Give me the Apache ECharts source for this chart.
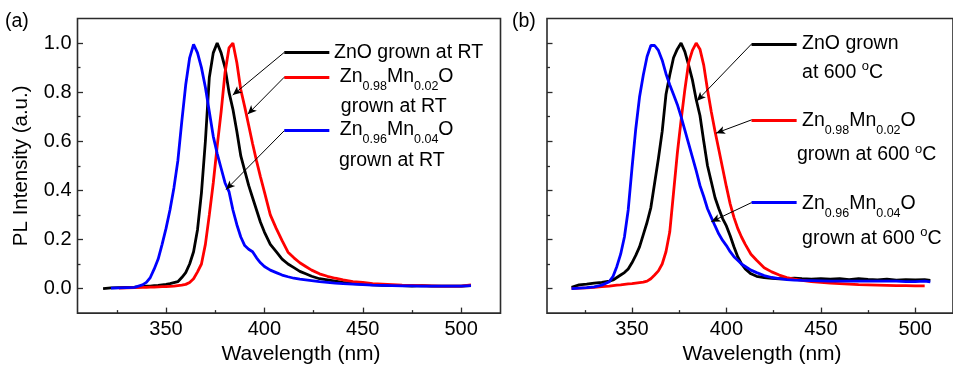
<!DOCTYPE html>
<html>
<head>
<meta charset="utf-8">
<script src="https://cdn.jsdelivr.net/npm/echarts@6.0.0/dist/echarts.min.js"></script>
<style>
  html, body { margin: 0; padding: 0; background: #fff; }
  #chart { width: 953px; height: 370px; }
</style>
</head>
<body>
<div id="chart"></div>
<script>
// ===== 数据：面板 (a) 室温生长 =====
const wlA = [318, 322, 326, 330, 334, 338, 340, 342, 344, 346, 348, 350, 352, 354, 356, 358, 360, 362, 364, 366,
  368, 370, 372, 374, 376, 378, 380, 382, 384, 386, 388, 390, 392, 394, 396, 398, 400, 403, 406, 409,
  412, 415, 418, 421, 424, 428, 432, 436, 440, 445, 450, 455, 460, 465, 470, 475, 480, 485, 490, 495, 500, 505]
const znoRT = [0.0, 0.003, 0.004, 0.005, 0.006, 0.008, 0.01, 0.01, 0.012, 0.013, 0.015, 0.017, 0.02, 0.024, 0.028, 0.045, 0.065, 0.1, 0.15, 0.24,
  0.39, 0.6, 0.86, 0.96, 1.0, 0.96, 0.9, 0.8, 0.73, 0.64, 0.54, 0.48, 0.42, 0.37, 0.32, 0.27, 0.23, 0.18, 0.15, 0.12,
  0.1, 0.085, 0.07, 0.06, 0.05, 0.04, 0.035, 0.03, 0.025, 0.02, 0.018, 0.015, 0.013, 0.012, 0.012, 0.01, 0.012, 0.01, 0.01, 0.01, 0.01, 0.012]
const mn002RT = [null, null, 0.002, 0.003, 0.004, 0.005, 0.005, 0.006, 0.006, 0.007, 0.008, 0.008, 0.009, 0.01, 0.012, 0.014, 0.017, 0.025, 0.04, 0.068,
  0.1, 0.18, 0.3, 0.43, 0.58, 0.72, 0.88, 0.98, 1.0, 0.92, 0.81, 0.74, 0.665, 0.59, 0.52, 0.455, 0.394, 0.3, 0.245, 0.195,
  0.148, 0.125, 0.105, 0.09, 0.075, 0.06, 0.05, 0.042, 0.035, 0.028, 0.025, 0.02, 0.018, 0.016, 0.014, 0.013, 0.012, 0.011, 0.01, 0.01, 0.01, 0.015]
const mn004RT = [null, 0.002, 0.003, 0.004, 0.005, 0.015, 0.025, 0.045, 0.08, 0.12, 0.18, 0.245, 0.32, 0.41, 0.52, 0.68, 0.83, 0.94, 0.995, 0.96,
  0.9, 0.82, 0.72, 0.62, 0.55, 0.49, 0.43, 0.395, 0.32, 0.26, 0.21, 0.175, 0.16, 0.15, 0.125, 0.105, 0.09, 0.075, 0.065, 0.055,
  0.048, 0.042, 0.038, 0.035, 0.032, 0.028, 0.025, 0.022, 0.02, 0.018, 0.016, 0.014, 0.013, 0.012, 0.011, 0.011, 0.01, 0.01, 0.01, 0.01, 0.01, 0.012]

// ===== 数据：面板 (b) 600 °C 生长 =====
const wlB = [318, 322, 326, 330, 334, 338, 340, 342, 344, 346, 348, 350, 352, 354, 356, 358, 360, 362, 364, 366,
  368, 370, 372, 374, 376, 378, 380, 382, 384, 386, 388, 390, 392, 394, 396, 398, 400, 402, 404, 406,
  408, 410, 413, 416, 420, 424, 428, 432, 436, 440, 445, 450, 455, 460, 465, 470, 475, 480, 485, 490, 495, 500, 505, 508]
const zno600 = [0.005, 0.015, 0.018, 0.022, 0.025, 0.03, 0.035, 0.045, 0.055, 0.065, 0.08, 0.105, 0.135, 0.17, 0.22, 0.27, 0.33, 0.43, 0.53, 0.64,
  0.79, 0.87, 0.94, 0.975, 1.0, 0.965, 0.91, 0.85, 0.77, 0.705, 0.6, 0.5, 0.435, 0.37, 0.325, 0.285, 0.255, 0.215, 0.17, 0.13,
  0.1, 0.08, 0.06, 0.05, 0.045, 0.042, 0.04, 0.04, 0.042, 0.04, 0.038, 0.04, 0.038, 0.04, 0.036, 0.04, 0.037, 0.035, 0.038, 0.034, 0.036, 0.035, 0.036, 0.033]
const mn002_600 = [0.0, 0.002, 0.003, 0.005, 0.008, 0.01, 0.012, 0.014, 0.015, 0.017, 0.019, 0.02, 0.022, 0.024, 0.026, 0.03, 0.04, 0.055, 0.072, 0.1,
  0.15, 0.23, 0.39, 0.55, 0.685, 0.81, 0.92, 0.97, 1.0, 0.975, 0.91, 0.81, 0.72, 0.64, 0.565, 0.49, 0.415, 0.345, 0.29, 0.245,
  0.21, 0.18, 0.14, 0.115, 0.085, 0.068, 0.055, 0.045, 0.038, 0.033, 0.028, 0.025, 0.022, 0.02, 0.018, 0.016, 0.015, 0.014, 0.013, 0.012, 0.012, 0.011, 0.011, null]
const mn004_600 = [0.0, 0.002, 0.004, 0.007, 0.014, 0.028, 0.05, 0.09, 0.14, 0.21, 0.32, 0.49, 0.65, 0.78, 0.87, 0.945, 0.99, 0.99, 0.97, 0.93,
  0.875, 0.83, 0.79, 0.75, 0.7, 0.645, 0.59, 0.535, 0.48, 0.42, 0.375, 0.325, 0.29, 0.255, 0.222, 0.196, 0.175, 0.15, 0.13, 0.115,
  0.1, 0.09, 0.075, 0.065, 0.053, 0.045, 0.04, 0.036, 0.034, 0.033, 0.032, 0.031, 0.03, 0.03, 0.03, 0.03, 0.03, 0.03, 0.03, 0.03, 0.028, 0.028, 0.03, 0.027]

// ===== 刻度 =====
const xMajorTicks = [350, 400, 450, 500]
const xMinorTicks = [325, 375, 425, 475]
const yMajorTicks = [0, 0.2, 0.4, 0.6, 0.8, 1.0]
const yMinorTicks = [0.1, 0.3, 0.5, 0.7, 0.9]

const FONT = 'Liberation Sans, Arial, sans-serif'
const FRAME = '#2b2b2b'
const X_MIN = 305
const X_MAX = 520

// 下标 / 上标样式
const RICH = {
  m: { fontSize: 19.5, fontFamily: FONT, color: '#000' },
  s: { fontSize: 12.5, fontFamily: FONT, color: '#000', padding: [20, 0, 0, 0] },
  u: { fontSize: 13, fontFamily: FONT, color: '#000', padding: [0, 0, 12, 0] },
}

const chart = echarts.init(document.getElementById('chart'), null, { renderer: 'canvas' })

function pairs(wl, vals) {
  return wl.map((x, i) => [x, vals[i]]).filter((p) => p[1] != null)
}

function xAxes(gridIndex) {
  return [
    {
      type: 'value', gridIndex, min: X_MIN, max: X_MAX, position: 'bottom',
      name: 'Wavelength (nm)', nameLocation: 'middle', nameGap: 27,
      nameTextStyle: { fontSize: 21, color: '#000', fontFamily: FONT, padding: [0, 0, 0, 24] },
      axisLine: { show: false, onZero: false },
      axisTick: { show: true, inside: true, length: 5.5, customValues: xMajorTicks, lineStyle: { color: FRAME, width: 1.3 } },
      axisLabel: { show: true, customValues: xMajorTicks, margin: 6, fontSize: 20, color: '#000', fontFamily: FONT },
      splitLine: { show: false },
    },
    {
      type: 'value', gridIndex, min: X_MIN, max: X_MAX, position: 'bottom',
      axisLine: { show: false, onZero: false },
      axisTick: { show: true, inside: true, length: 3, customValues: xMinorTicks, lineStyle: { color: FRAME, width: 1.3 } },
      axisLabel: { show: false },
      splitLine: { show: false },
    },
  ]
}

function yAxes(gridIndex, withLabels) {
  return [
    {
      type: 'value', gridIndex, min: -0.1, max: 1.1, position: 'left',
      name: withLabels ? 'PL Intensity (a.u.)' : '', nameLocation: 'middle', nameGap: 46,
      nameTextStyle: { fontSize: 20.5, color: '#000', fontFamily: FONT },
      axisLine: { show: false, onZero: false },
      axisTick: { show: true, inside: true, length: 5.5, customValues: yMajorTicks, lineStyle: { color: FRAME, width: 1.3 } },
      axisLabel: {
        show: withLabels, customValues: yMajorTicks, margin: 6, fontSize: 20, color: '#000', fontFamily: FONT,
        formatter: (v) => v.toFixed(1),
      },
      splitLine: { show: false },
    },
    {
      type: 'value', gridIndex, min: -0.1, max: 1.1, position: 'left',
      axisLine: { show: false, onZero: false },
      axisTick: { show: true, inside: true, length: 3, customValues: yMinorTicks, lineStyle: { color: FRAME, width: 1.3 } },
      axisLabel: { show: false },
      splitLine: { show: false },
    },
  ]
}

// 图例样线 + 指向曲线的箭头 + 文字标签
function curve(name, color, data, axisIdx, note) {
  const solid = (w, c) => ({ width: w, color: c, type: 'solid' })
  return {
    name, type: 'line', data, xAxisIndex: axisIdx, yAxisIndex: axisIdx,
    showSymbol: false, symbol: 'none', smooth: false, animation: false, silent: true,
    lineStyle: { width: 2.8, color },
    markLine: {
      silent: true, animation: false, symbol: 'none', label: { show: false },
      lineStyle: { type: 'solid' }, emphasis: { disabled: true },
      data: [
        [
          { coord: note.sample[0], lineStyle: solid(3.2, color) },
          { coord: note.sample[1], lineStyle: solid(3.2, color) },
        ],
        [
          { coord: note.sample[0], symbol: 'none', lineStyle: solid(1, '#000') },
          { coord: note.tip, symbol: 'arrow', symbolSize: [6, 9], lineStyle: solid(1, '#000') },
        ],
      ],
    },
    markPoint: {
      silent: true, animation: false, symbol: 'circle', symbolSize: 1,
      itemStyle: { color: 'rgba(0,0,0,0)' },
      label: { show: true, position: 'right', distance: 0, fontSize: 19.5, fontFamily: FONT, color: '#000', rich: RICH },
      data: note.texts.map((t) => ({ coord: t.at, label: { formatter: t.text } })),
    },
  }
}

const noteA = {
  zno: { sample: [[410.1, 0.962], [433, 0.962]], tip: [383.9, 0.788],
    texts: [{ at: [435.1, 0.962], text: '{m|ZnO grown at RT}' }] },
  mn2: { sample: [[410.1, 0.861], [433, 0.861]], tip: [391.5, 0.71],
    texts: [{ at: [438.1, 0.865], text: '{m|Zn}{s|0.98}{m|Mn}{s|0.02}{m|O}' }, { at: [438.6, 0.742], text: '{m|grown at RT}' }] },
  mn4: { sample: [[410.1, 0.643], [433, 0.643]], tip: [380.5, 0.403],
    texts: [{ at: [438.1, 0.649], text: '{m|Zn}{s|0.96}{m|Mn}{s|0.04}{m|O}' }, { at: [437.6, 0.521], text: '{m|grown at RT}' }] },
}
const noteB = {
  zno: { sample: [[413.3, 0.996], [437.2, 0.996]], tip: [384.3, 0.764],
    texts: [{ at: [439.8, 0.996], text: '{m|ZnO grown}' }, { at: [439.8, 0.879], text: '{m|at 600 }{u|o}{m|C}' }] },
  mn2: { sample: [[413.3, 0.687], [437.2, 0.687]], tip: [394.5, 0.633],
    texts: [{ at: [439.8, 0.686], text: '{m|Zn}{s|0.98}{m|Mn}{s|0.02}{m|O}' }, { at: [437.1, 0.544], text: '{m|grown at 600 }{u|o}{m|C}' }] },
  mn4: { sample: [[413.3, 0.35], [437.2, 0.35]], tip: [392, 0.272],
    texts: [{ at: [439.8, 0.346], text: '{m|Zn}{s|0.96}{m|Mn}{s|0.04}{m|O}' }, { at: [439.8, 0.205], text: '{m|grown at 600 }{u|o}{m|C}' }] },
}

const option = {
  animation: false,
  backgroundColor: '#fff',
  grid: [
    { left: 77.5, top: 18.5, width: 423, height: 297, show: true, borderColor: FRAME, borderWidth: 1.6, backgroundColor: 'transparent' },
    { left: 547, top: 18.5, width: 422, height: 297, show: true, borderColor: FRAME, borderWidth: 1.6, backgroundColor: 'transparent' },
  ],
  xAxis: [...xAxes(0), ...xAxes(1)],
  yAxis: [...yAxes(0, true), ...yAxes(1, false)],
  graphic: [
    { type: 'text', left: 5, top: 12, style: { text: '(a)', fontSize: 19.5, fontFamily: FONT, fill: '#000' } },
    { type: 'text', left: 512, top: 12, style: { text: '(b)', fontSize: 19.5, fontFamily: FONT, fill: '#000' } },
  ],
  series: [
    curve('ZnO RT', '#000000', pairs(wlA, znoRT), 0, noteA.zno),
    curve('Zn0.98Mn0.02O RT', '#ff0000', pairs(wlA, mn002RT), 0, noteA.mn2),
    curve('Zn0.96Mn0.04O RT', '#0000ff', pairs(wlA, mn004RT), 0, noteA.mn4),
    curve('ZnO 600', '#000000', pairs(wlB, zno600), 2, noteB.zno),
    curve('Zn0.98Mn0.02O 600', '#ff0000', pairs(wlB, mn002_600), 2, noteB.mn2),
    curve('Zn0.96Mn0.04O 600', '#0000ff', pairs(wlB, mn004_600), 2, noteB.mn4),
  ],
}

chart.setOption(option)
</script>
</body>
</html>
